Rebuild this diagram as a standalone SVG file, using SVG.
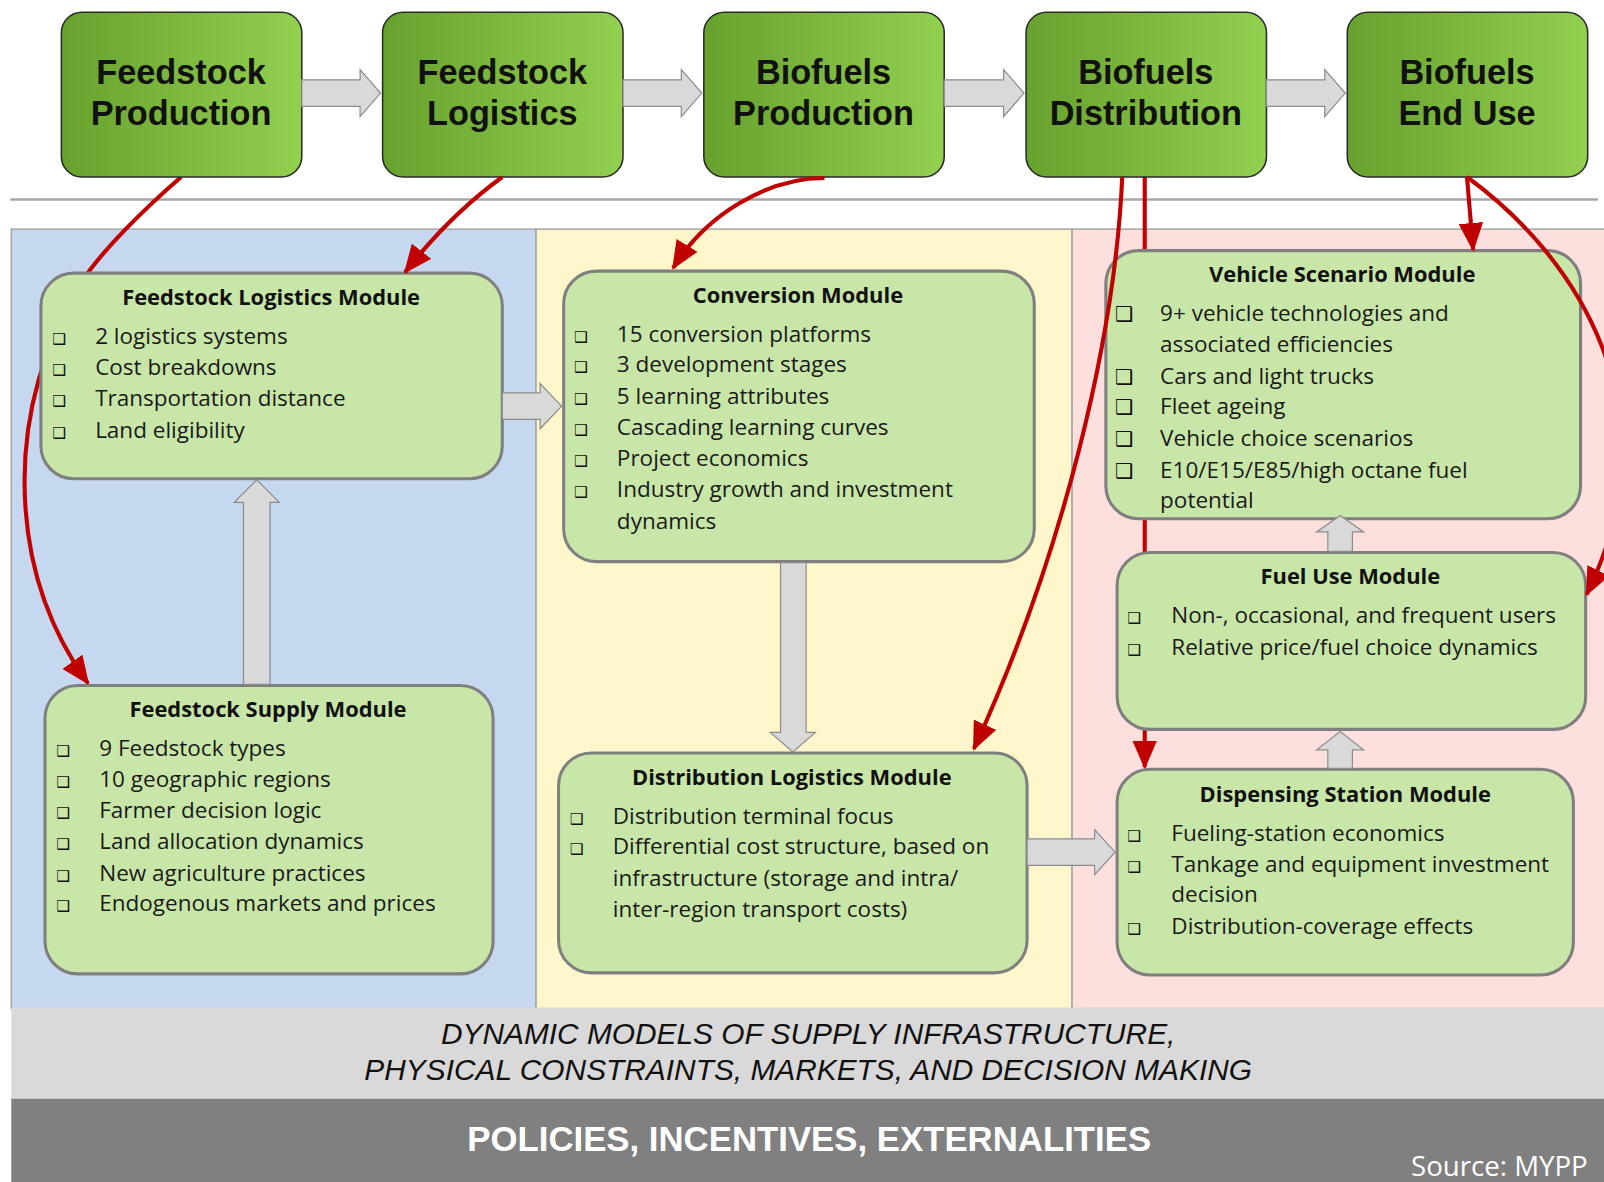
<svg xmlns="http://www.w3.org/2000/svg" width="1604" height="1182" viewBox="0 0 1604 1182">
<defs>
<linearGradient id="gTop" x1="0" y1="0" x2="1" y2="0">
<stop offset="0" stop-color="#67a22e"/>
<stop offset="1" stop-color="#92d050"/>
</linearGradient>
<marker id="rh" markerUnits="userSpaceOnUse" markerWidth="28" markerHeight="24" viewBox="0 0 28 24" refX="26" refY="12" orient="auto">
<path d="M0,0 L28,12 L0,24 z" fill="#c00000"/>
</marker>
<style>
.top{fill:url(#gTop);stroke:#2a2a2a;stroke-width:1.5}
.topt{font-family:"Liberation Sans",Arial,sans-serif;font-weight:bold;font-size:33.5px;fill:#111;text-anchor:middle}
.mod{fill:#c9e6a9;stroke:#7f7f7f;stroke-width:3}
.mt{font-family:"Open Sans",sans-serif;font-weight:bold;font-size:21.4px;fill:#111;text-anchor:middle}
.it{font-family:"Open Sans",sans-serif;font-size:22px;fill:#1a1a1a}
.bl{font-family:"DejaVu Sans",sans-serif;font-size:15px;fill:#111;font-weight:bold}
.blb{font-family:"DejaVu Sans",sans-serif;font-size:20px;fill:#111;font-weight:bold}
.ga{fill:#d9d9d9;stroke:#8c8c8c;stroke-width:1.2}
.red{fill:none;stroke:#c00000;stroke-width:4}
</style>
</defs>
<g transform="scale(1.023)">
<rect x="0" y="0" width="1570" height="1160" fill="#ffffff"/>
<g id="panels">
<rect x="11" y="224" width="513" height="762" fill="#c6d8ef" stroke="#a6a6a6" stroke-width="1.5"/>
<rect x="524" y="224" width="524" height="762" fill="#fff6cc" stroke="#a6a6a6" stroke-width="1.5"/>
<rect x="1048" y="224" width="524" height="762" fill="#fde0de" stroke="#a6a6a6" stroke-width="1.5"/>
<line x1="10" y1="195" x2="1562" y2="195" stroke="#a6a6a6" stroke-width="2.5"/>
</g>
<g id="band-models">
<rect x="11" y="985" width="1561" height="89" fill="#d9d9d9"/>
<text x="790" y="1021" font-family="Liberation Sans, Arial, sans-serif" font-style="italic" font-size="29.2" fill="#111" text-anchor="middle">DYNAMIC MODELS OF SUPPLY INFRASTRUCTURE,</text>
<text x="790" y="1056" font-family="Liberation Sans, Arial, sans-serif" font-style="italic" font-size="29.2" fill="#111" text-anchor="middle">PHYSICAL CONSTRAINTS, MARKETS, AND DECISION MAKING</text>
</g>
<g id="band-policies">
<rect x="11" y="1074" width="1561" height="90" fill="#808080"/>
<text x="791" y="1125" font-family="Liberation Sans, Arial, sans-serif" font-weight="bold" font-size="34" fill="#ffffff" text-anchor="middle">POLICIES, INCENTIVES, EXTERNALITIES</text>
<text x="1552" y="1150" font-family="Open Sans, sans-serif" font-size="27" fill="#ffffff" text-anchor="end">Source: MYPP</text>
</g>
<g id="connectors-back">
<path class="red" d="M177,173 C140,205 100,245 80,275 C50,325 24,390 24,470 C24,560 55,625 86,668" marker-end="url(#rh)"/>
<path class="red" d="M1119,173 L1119,750" marker-end="url(#rh)"/>
</g>
<g id="top-boxes">
<g id="feedstock-production"><rect class="top" x="60" y="12" width="235" height="161" rx="20"/><text class="topt" x="177" y="82">Feedstock</text><text class="topt" x="177" y="122">Production</text></g>
<g id="feedstock-logistics"><rect class="top" x="374" y="12" width="235" height="161" rx="20"/><text class="topt" x="491" y="82">Feedstock</text><text class="topt" x="491" y="122">Logistics</text></g>
<g id="biofuels-production"><rect class="top" x="688" y="12" width="235" height="161" rx="20"/><text class="topt" x="805" y="82">Biofuels</text><text class="topt" x="805" y="122">Production</text></g>
<g id="biofuels-distribution"><rect class="top" x="1003" y="12" width="235" height="161" rx="20"/><text class="topt" x="1120" y="82">Biofuels</text><text class="topt" x="1120" y="122">Distribution</text></g>
<g id="biofuels-end-use"><rect class="top" x="1317" y="12" width="235" height="161" rx="20"/><text class="topt" x="1434" y="82">Biofuels</text><text class="topt" x="1434" y="122">End Use</text></g>
</g>
<g id="modules">
<g id="feedstock-logistics-module">
<rect class="mod" x="40" y="267" width="451" height="201" rx="32"/>
<text class="mt" x="265" y="298">Feedstock Logistics Module</text>
<text class="bl" x="51" y="336">❑</text><text class="it" x="93" y="336">2 logistics systems</text>
<text class="bl" x="51" y="367">❑</text><text class="it" x="93" y="367">Cost breakdowns</text>
<text class="bl" x="51" y="397">❑</text><text class="it" x="93" y="397">Transportation distance</text>
<text class="bl" x="51" y="428">❑</text><text class="it" x="93" y="428">Land eligibility</text>
</g>
<g id="conversion-module">
<rect class="mod" x="551" y="265" width="460" height="284" rx="32"/>
<text class="mt" x="780" y="296">Conversion Module</text>
<text class="bl" x="561" y="334">❑</text><text class="it" x="603" y="334">15 conversion platforms</text>
<text class="bl" x="561" y="364">❑</text><text class="it" x="603" y="364">3 development stages</text>
<text class="bl" x="561" y="395">❑</text><text class="it" x="603" y="395">5 learning attributes</text>
<text class="bl" x="561" y="425">❑</text><text class="it" x="603" y="425">Cascading learning curves</text>
<text class="bl" x="561" y="456">❑</text><text class="it" x="603" y="456">Project economics</text>
<text class="bl" x="561" y="486">❑</text><text class="it" x="603" y="486">Industry growth and investment</text>
<text class="it" x="603" y="517">dynamics</text>
</g>
<g id="feedstock-supply-module">
<rect class="mod" x="44" y="670" width="438" height="282" rx="32"/>
<text class="mt" x="262" y="701">Feedstock Supply Module</text>
<text class="bl" x="55" y="739">❑</text><text class="it" x="97" y="739">9 Feedstock types</text>
<text class="bl" x="55" y="769">❑</text><text class="it" x="97" y="769">10 geographic regions</text>
<text class="bl" x="55" y="800">❑</text><text class="it" x="97" y="800">Farmer decision logic</text>
<text class="bl" x="55" y="830">❑</text><text class="it" x="97" y="830">Land allocation dynamics</text>
<text class="bl" x="55" y="861">❑</text><text class="it" x="97" y="861">New agriculture practices</text>
<text class="bl" x="55" y="891">❑</text><text class="it" x="97" y="891">Endogenous markets and prices</text>
</g>
<g id="distribution-logistics-module">
<rect class="mod" x="546" y="736" width="458" height="215" rx="32"/>
<text class="mt" x="774" y="767">Distribution Logistics Module</text>
<text class="bl" x="557" y="805">❑</text><text class="it" x="599" y="805">Distribution terminal focus</text>
<text class="bl" x="557" y="835">❑</text><text class="it" x="599" y="835">Differential cost structure, based on</text>
<text class="it" x="599" y="866">infrastructure (storage and intra/</text>
<text class="it" x="599" y="896">inter-region transport costs)</text>
</g>
<g id="vehicle-scenario-module">
<rect class="mod" x="1081" y="245" width="464" height="262" rx="32"/>
<text class="mt" x="1312" y="276">Vehicle Scenario Module</text>
<text class="blb" x="1090" y="314">❑</text><text class="it" x="1134" y="314">9+ vehicle technologies and</text>
<text class="it" x="1134" y="344">associated efficiencies</text>
<text class="blb" x="1090" y="375">❑</text><text class="it" x="1134" y="375">Cars and light trucks</text>
<text class="blb" x="1090" y="405">❑</text><text class="it" x="1134" y="405">Fleet ageing</text>
<text class="blb" x="1090" y="436">❑</text><text class="it" x="1134" y="436">Vehicle choice scenarios</text>
<text class="blb" x="1090" y="467">❑</text><text class="it" x="1134" y="467">E10/E15/E85/high octane fuel</text>
<text class="it" x="1134" y="497">potential</text>
</g>
<g id="fuel-use-module">
<rect class="mod" x="1092" y="540" width="458" height="173" rx="32"/>
<text class="mt" x="1320" y="571">Fuel Use Module</text>
<text class="bl" x="1102" y="609">❑</text><text class="it" x="1145" y="609">Non-, occasional, and frequent users</text>
<text class="bl" x="1102" y="640">❑</text><text class="it" x="1145" y="640">Relative price/fuel choice dynamics</text>
</g>
<g id="dispensing-station-module">
<rect class="mod" x="1092" y="752" width="446" height="201" rx="32"/>
<text class="mt" x="1315" y="784">Dispensing Station Module</text>
<text class="bl" x="1102" y="822">❑</text><text class="it" x="1145" y="822">Fueling-station economics</text>
<text class="bl" x="1102" y="852">❑</text><text class="it" x="1145" y="852">Tankage and equipment investment</text>
<text class="it" x="1145" y="882">decision</text>
<text class="bl" x="1102" y="913">❑</text><text class="it" x="1145" y="913">Distribution-coverage effects</text>
</g>
</g>
<g id="connectors">
<path class="ga" d="M295,78 H352 V68 L372,91 L352,114 V104 H295 Z"/>
<path class="ga" d="M609,78 H666 V68 L686,91 L666,114 V104 H609 Z"/>
<path class="ga" d="M923,78 H981 V68 L1001,91 L981,114 V104 H923 Z"/>
<path class="ga" d="M1238,78 H1295 V68 L1315,91 L1295,114 V104 H1238 Z"/>
<path class="ga" d="M491,384 H528 V375 L549,397 L528,419 V410 H491 Z"/>
<path class="ga" d="M238,669 V491 H229 L251,469 L273,491 H264 V669 Z"/>
<path class="ga" d="M763,550 V716 H753 L775,735 L797,716 H788 V550 Z"/>
<path class="ga" d="M1004,820 H1070 V811 L1090,833 L1070,855 V846 H1004 Z"/>
<path class="ga" d="M1298,539 V520 H1287 L1310,504 L1333,520 H1322 V539 Z"/>
<path class="ga" d="M1298,751 V733 H1287 L1310,715 L1333,733 H1322 V751 Z"/>
<path class="red" d="M1097,173 C1090,330 1040,540 952,732" marker-end="url(#rh)"/>
<path class="red" d="M491,173 Q440,210 396,266" marker-end="url(#rh)"/>
<path class="red" d="M806,174 C750,174 690,210 658,262" marker-end="url(#rh)"/>
<path class="red" d="M1434,173 L1440,244" marker-end="url(#rh)"/>
<path class="red" d="M1434,173 C1540,250 1640,400 1551,581" marker-end="url(#rh)"/>
</g>
</g>
</svg>
